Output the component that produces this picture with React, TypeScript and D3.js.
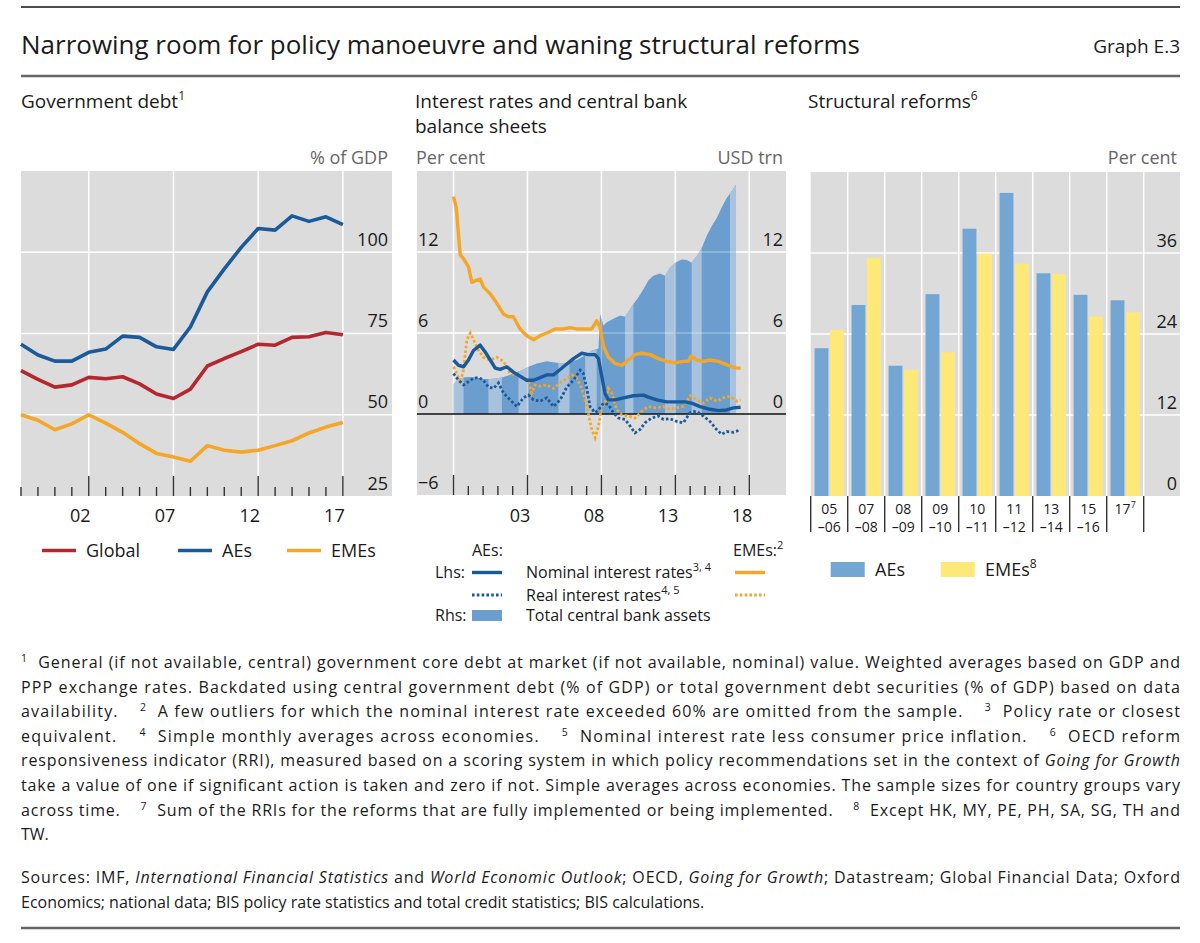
import React, { useEffect } from "react";
import * as d3 from "d3";

const FONT = "'Open Sans', 'Noto Sans', sans-serif";

// ---- Government debt (% of GDP), end-year values
const debtYears = [1998, 1999, 2000, 2001, 2002, 2003, 2004, 2005, 2006, 2007, 2008, 2009, 2010, 2011, 2012, 2013, 2014, 2015, 2016, 2017];
const debtGlobal = [63.6, 60.9, 58.5, 59.2, 61.5, 61.1, 61.7, 59.5, 56.4, 55.0, 57.9, 65.0, 67.3, 69.4, 71.7, 71.4, 73.8, 74.0, 75.3, 74.6];
const debtAEs = [71.7, 68.4, 66.5, 66.5, 69.2, 70.2, 74.2, 73.8, 70.9, 70.1, 77.0, 87.8, 94.9, 101.5, 107.3, 106.8, 111.2, 109.5, 110.9, 108.5];
const debtEMEs = [50.0, 48.3, 45.4, 47.2, 50.0, 47.4, 44.6, 41.1, 38.1, 37.0, 35.7, 40.5, 39.1, 38.5, 39.1, 40.5, 42.0, 44.4, 46.2, 47.6];
const debtTicks = [25, 50, 75, 100];
const debtMajorYears = [2002, 2007, 2012, 2017];

// ---- Interest rates (per cent) and central bank assets (USD trn), [date, value]
const emeNominal: [number, number][] = [
  [1999.0, 16.1], [1999.18, 15.3], [1999.45, 11.8], [1999.68, 11.5], [2000.01, 10.9], [2000.24, 9.75], [2000.53, 9.9],
  [2000.8, 10.0], [2001.03, 9.4], [2001.48, 8.9], [2001.93, 8.2], [2002.38, 7.4], [2002.72, 7.2], [2003.05, 7.2],
  [2003.5, 6.3], [2003.95, 5.8], [2004.41, 5.5], [2004.86, 5.8], [2005.31, 6.0], [2005.87, 6.3], [2006.43, 6.3],
  [2006.88, 6.4], [2007.33, 6.3], [2008.01, 6.3], [2008.35, 6.3], [2008.68, 6.9], [2008.91, 6.4], [2009.14, 5.0],
  [2009.47, 4.2], [2009.92, 3.75], [2010.37, 3.6], [2010.82, 4.0], [2011.27, 4.4], [2011.73, 4.5], [2012.29, 4.4],
  [2012.85, 4.1], [2013.41, 3.9], [2013.98, 3.8], [2014.54, 3.9], [2014.88, 3.9], [2015.06, 4.3], [2015.44, 4.0],
  [2015.89, 3.9], [2016.34, 4.0], [2016.91, 3.9], [2017.36, 3.7], [2017.81, 3.5], [2018.14, 3.4], [2018.41, 3.4],
];
const aeNominal: [number, number][] = [
  [1999.0, 4.0], [1999.34, 3.6], [1999.68, 3.5], [2000.01, 4.0], [2000.35, 4.7], [2000.8, 5.1], [2001.14, 4.6],
  [2001.48, 4.0], [2001.82, 3.4], [2002.15, 3.3], [2002.6, 3.5], [2003.05, 3.1], [2003.5, 2.8], [2003.95, 2.5],
  [2004.41, 2.5], [2004.86, 2.7], [2005.31, 2.9], [2005.76, 2.9], [2006.21, 3.3], [2006.66, 3.7], [2007.11, 4.1],
  [2007.67, 4.5], [2008.12, 4.4], [2008.57, 4.4], [2008.8, 4.1], [2009.02, 2.8], [2009.25, 1.5], [2009.47, 1.05],
  [2009.92, 1.05], [2010.49, 1.2], [2011.16, 1.35], [2011.84, 1.4], [2012.18, 1.25], [2012.74, 1.05], [2013.41, 0.9],
  [2014.09, 0.9], [2014.65, 0.9], [2015.1, 0.8], [2015.67, 0.55], [2016.34, 0.35], [2016.91, 0.25], [2017.47, 0.3],
  [2017.92, 0.45], [2018.41, 0.5],
];
const aeReal: [number, number][] = [
  [1999.0, 3.0], [1999.34, 2.5], [1999.68, 2.15], [2000.01, 2.4], [2000.35, 2.65], [2000.69, 2.7], [2001.03, 2.5],
  [2001.36, 2.0], [2001.7, 1.9], [2002.04, 2.3], [2002.38, 1.55], [2002.83, 1.05], [2003.28, 0.55], [2003.73, 1.2],
  [2004.07, 1.4], [2004.41, 1.05], [2004.86, 0.95], [2005.31, 1.2], [2005.76, 0.55], [2006.21, 1.05], [2006.66, 2.0],
  [2007.11, 2.5], [2007.56, 3.25], [2007.78, 3.0], [2008.01, 1.9], [2008.23, 0.55], [2008.57, 0.1], [2008.8, 0.3],
  [2009.14, 0.8], [2009.47, 0.7], [2009.81, 0.1], [2010.15, -0.3], [2010.6, -0.4], [2010.94, -0.9], [2011.27, -1.4],
  [2011.61, -1.15], [2011.95, -0.65], [2012.4, -0.3], [2012.85, -0.15], [2013.19, -0.4], [2013.64, -0.35],
  [2014.09, -0.55], [2014.54, -0.65], [2014.99, 0.1], [2015.44, 0.2], [2015.89, -0.15], [2016.34, -0.55],
  [2016.79, -1.15], [2017.13, -1.5], [2017.47, -1.3], [2017.92, -1.35], [2018.32, -1.2],
];
const emeReal: [number, number][] = [
  [1999.0, 3.5], [1999.23, 3.0], [1999.45, 2.3], [1999.68, 3.3], [1999.9, 5.5], [2000.13, 6.0], [2000.35, 5.5],
  [2000.69, 4.7], [2001.03, 4.2], [2001.48, 4.0], [2001.93, 4.2], [2002.38, 3.9], [2002.83, 3.0], [2003.17, 2.9],
  [2003.62, 2.8], [2004.07, 2.4], [2004.29, 1.55], [2004.52, 2.15], [2004.86, 2.05], [2005.31, 2.15], [2005.76, 1.9],
  [2006.21, 2.3], [2006.66, 2.65], [2007.0, 2.9], [2007.33, 2.65], [2007.67, 1.9], [2008.01, 0.55], [2008.35, -1.15],
  [2008.57, -1.75], [2008.8, -0.9], [2009.02, 0.55], [2009.25, 0.8], [2009.47, 1.9], [2009.7, 1.55], [2010.04, 0.3],
  [2010.37, -0.05], [2010.82, -0.15], [2011.27, -0.3], [2011.73, 0.2], [2012.18, 0.55], [2012.74, 0.45],
  [2013.19, 0.55], [2013.64, 0.35], [2014.09, 0.45], [2014.54, 0.55], [2014.99, 1.35], [2015.44, 1.05],
  [2015.89, 0.8], [2016.34, 1.2], [2016.79, 0.95], [2017.24, 1.2], [2017.69, 1.3], [2018.14, 0.95], [2018.41, 1.05],
];
const cbAssets: [number, number][] = [
  [1999.0, 2.2], [1999.34, 2.6], [1999.68, 2.7], [2000.01, 2.75], [2000.58, 2.7], [2001.03, 2.6], [2001.48, 2.6],
  [2001.93, 2.65], [2002.27, 2.7], [2002.83, 2.9], [2003.39, 3.15], [2003.73, 3.3], [2004.07, 3.5], [2004.63, 3.75],
  [2005.31, 3.9], [2005.98, 3.8], [2006.43, 3.75], [2006.88, 3.9], [2007.33, 4.0], [2007.9, 4.35], [2008.35, 4.7],
  [2008.8, 4.85], [2008.91, 7.4], [2009.14, 6.55], [2009.36, 6.8], [2009.81, 7.05], [2010.26, 7.3], [2010.6, 7.2],
  [2011.16, 8.15], [2011.5, 8.65], [2011.84, 9.25], [2012.18, 9.9], [2012.51, 10.25], [2012.96, 10.4],
  [2013.3, 10.25], [2013.64, 10.85], [2013.98, 11.2], [2014.43, 11.45], [2014.77, 11.4], [2015.1, 11.2],
  [2015.44, 11.7], [2015.78, 12.3], [2016.12, 13.2], [2016.45, 13.9], [2016.79, 14.5], [2017.13, 15.3],
  [2017.47, 16.0], [2017.81, 16.5], [2018.1, 17.0],
];
// lighter stripes visible in the asset bars
const assetLightBands: [number, number][] = [
  [1999.0, 1999.68], [2001.36, 2002.27], [2003.39, 2004.07], [2006.09, 2006.84], [2007.9, 2008.68],
  [2010.6, 2011.16], [2013.3, 2013.98], [2015.1, 2015.78], [2017.69, 2018.14],
];
const rateTicks = [-6, 0, 6, 12];
const rateYears = [1999, 2000, 2001, 2002, 2003, 2004, 2005, 2006, 2007, 2008, 2009, 2010, 2011, 2012, 2013, 2014, 2015, 2016, 2017, 2018, 2019];
const rateMajorYears = [1999, 2004, 2009, 2014, 2019];
const rateYearLabels = [2003, 2008, 2013, 2018];

// ---- Structural reforms (per cent)
const reformTop = ["05", "07", "08", "09", "10", "11", "13", "15", "17"];
const reformBottom = ["–06", "–08", "–09", "–10", "–11", "–12", "–14", "–16", ""];
const reformAEs = [21.9, 28.3, 19.3, 29.9, 39.6, 44.9, 33.0, 29.8, 29.0];
const reformEMEs = [24.6, 35.3, 18.7, 21.3, 35.9, 34.4, 32.9, 26.6, 27.2];
const reformTicks = [0, 12, 24, 36];

const C = {
  bg: "#dcdcdc",
  red: "#b3282e",
  blue: "#1a5a9b",
  orange: "#f4a628",
  barBlue: "#74a6d3",
  barYellow: "#fde878",
  assetDark: "#6b9ecf",
  assetLight: "#a8c2dd",
  text: "#1a1a1a",
  unit: "#666666",
};

type Seg = { t: string; sup?: boolean; it?: boolean };
function segs(list: Seg[], supSize = 11, shift = 7) {
  let up = false;
  return list.map((s, i) => {
    let dy: number | undefined;
    if (s.sup && !up) {
      dy = -shift;
      up = true;
    } else if (!s.sup && up) {
      dy = shift;
      up = false;
    }
    return (
      <tspan key={i} dy={dy} fontSize={s.sup ? supSize : undefined} fontStyle={s.it ? "italic" : undefined}>
        {s.t}
      </tspan>
    );
  });
}

function DebtPanel() {
  const L = 21, R = 392, T = 171, B = 496;
  const x = d3.scaleLinear().domain([1998, 2019.9]).range([L, R]);
  const y = d3.scaleLinear().domain([25, 125]).range([B, T]);
  const line = d3.line<number>().x((_, i) => x(debtYears[i])).y((d) => y(d));
  const series = [
    { v: debtGlobal, c: C.red },
    { v: debtAEs, c: C.blue },
    { v: debtEMEs, c: C.orange },
  ];
  return (
    <g>
      <rect x={L} y={T} width={R - L} height={B - T} fill={C.bg} />
      {debtTicks.slice(1).map((t) => (
        <line key={t} x1={L} x2={R} y1={y(t)} y2={y(t)} stroke="#fff" strokeWidth={1.5} />
      ))}
      {debtMajorYears.map((yr) => (
        <line key={yr} x1={x(yr)} x2={x(yr)} y1={T} y2={B} stroke="#fff" strokeWidth={1.5} />
      ))}
      {debtYears.map((yr) => {
        const major = debtMajorYears.includes(yr);
        return <line key={yr} x1={x(yr)} x2={x(yr)} y1={B} y2={B - (major ? 20 : 9)} stroke="#333" strokeWidth={1.4} />;
      })}
      {series.map((s, i) => (
        <path key={i} d={line(s.v) || ""} fill="none" stroke={s.c} strokeWidth={3.6} strokeLinejoin="round" />
      ))}
      {debtTicks.map((t) => (
        <text key={t} x={R - 4} y={y(t) - 6.5} textAnchor="end" fontSize={18} fill={C.text}>
          {t}
        </text>
      ))}
      <text x={R - 4} y={164} textAnchor="end" fontSize={18} fill={C.unit}>% of GDP</text>
      {debtMajorYears.map((yr) => (
        <text key={yr} x={x(yr - 0.5)} y={522} textAnchor="middle" fontSize={18} fill={C.text}>
          {String(yr).slice(2)}
        </text>
      ))}
      {/* legend */}
      {[
        { n: "Global", c: C.red, x0: 42 },
        { n: "AEs", c: C.blue, x0: 178 },
        { n: "EMEs", c: C.orange, x0: 287 },
      ].map((d) => (
        <g key={d.n}>
          <line x1={d.x0} x2={d.x0 + 34} y1={550.5} y2={550.5} stroke={d.c} strokeWidth={3.6} />
          <text x={d.x0 + 44} y={557} fontSize={18} fill={C.text}>{d.n}</text>
        </g>
      ))}
    </g>
  );
}

function RatesPanel() {
  const L = 417, R = 786, T = 171, B = 495;
  const x = d3.scaleLinear().domain([1996.53, 2021.48]).range([L, R]);
  const y = d3.scaleLinear().domain([-6, 18]).range([B, T]);
  const line = d3.line<[number, number]>().x((d) => x(d[0])).y((d) => y(d[1]));
  const area = d3.area<[number, number]>().x((d) => x(d[0])).y0(y(0)).y1((d) => y(d[1]));
  const assetPath = area(cbAssets) || "";
  const grid = (op: number) => (
    <g opacity={op}>
      {rateTicks.slice(2).map((t) => (
        <line key={t} x1={L} x2={R} y1={y(t)} y2={y(t)} stroke="#fff" strokeWidth={1.5} />
      ))}
      {rateMajorYears.map((yr) => (
        <line key={yr} x1={x(yr)} x2={x(yr)} y1={T} y2={B} stroke="#fff" strokeWidth={1.5} />
      ))}
    </g>
  );
  return (
    <g>
      <defs>
        <clipPath id="lightBands">
          {assetLightBands.map((b, i) => (
            <rect key={i} x={x(b[0])} y={T} width={x(b[1]) - x(b[0])} height={B - T} />
          ))}
        </clipPath>
      </defs>
      <rect x={L} y={T} width={R - L} height={B - T} fill={C.bg} />
      {grid(1)}
      <path d={assetPath} fill={C.assetDark} />
      <path d={assetPath} fill={C.assetLight} clipPath="url(#lightBands)" />
      {grid(0.3)}
      <line x1={L} x2={R} y1={y(0)} y2={y(0)} stroke="#111" strokeWidth={1.5} />
      {rateYears.map((yr) => {
        const major = rateMajorYears.includes(yr);
        return <line key={yr} x1={x(yr)} x2={x(yr)} y1={B} y2={B - (major ? 20 : 9)} stroke="#333" strokeWidth={1.4} />;
      })}
      <path d={line(emeReal) || ""} fill="none" stroke={C.orange} strokeWidth={2.8} strokeDasharray="2.6 2.2" />
      <path d={line(aeReal) || ""} fill="none" stroke={C.blue} strokeWidth={2.8} strokeDasharray="2.6 2.2" />
      <path d={line(emeNominal) || ""} fill="none" stroke={C.orange} strokeWidth={3.4} strokeLinejoin="round" />
      <path d={line(aeNominal) || ""} fill="none" stroke={C.blue} strokeWidth={3.4} strokeLinejoin="round" />
      {rateTicks.map((t) => (
        <g key={t}>
          <text x={L + 1} y={y(t) - 6.5} fontSize={18} fill={C.text}>{t < 0 ? "−" + Math.abs(t) : t}</text>
          {t >= 0 && (
            <text x={R - 3} y={y(t) - 6.5} textAnchor="end" fontSize={18} fill={C.text}>{t}</text>
          )}
        </g>
      ))}
      <text x={L - 1} y={164} fontSize={18} fill={C.unit}>Per cent</text>
      <text x={R - 3} y={164} textAnchor="end" fontSize={18} fill={C.unit}>USD trn</text>
      {rateYearLabels.map((yr) => (
        <text key={yr} x={x(yr + 0.5)} y={522} textAnchor="middle" fontSize={18} fill={C.text}>
          {String(yr).slice(2)}
        </text>
      ))}
      {/* legend */}
      <g fontSize={16} fill={C.text}>
        <text x={472} y={556}>AEs:</text>
        <text x={733} y={556}>{segs([{ t: "EMEs:" }, { t: "2", sup: true }], 11, 7)}</text>
        <text x={435} y={578}>Lhs:</text>
        <line x1={472} x2={502} y1={572.5} y2={572.5} stroke={C.blue} strokeWidth={3.4} />
        <text x={526} y={578}>{segs([{ t: "Nominal interest rates" }, { t: "3, 4", sup: true }], 11, 7)}</text>
        <line x1={735} x2={765} y1={572.5} y2={572.5} stroke={C.orange} strokeWidth={3.4} />
        <line x1={472} x2={502} y1={595} y2={595} stroke={C.blue} strokeWidth={2.8} strokeDasharray="2.6 2.2" />
        <text x={526} y={600.5}>{segs([{ t: "Real interest rates" }, { t: "4, 5", sup: true }], 11, 7)}</text>
        <line x1={735} x2={765} y1={595} y2={595} stroke={C.orange} strokeWidth={2.8} strokeDasharray="2.6 2.2" />
        <text x={435} y={621}>Rhs:</text>
        <rect x={472} y={610} width={30} height={11} fill={C.assetDark} />
        <text x={526} y={621}>Total central bank assets</text>
      </g>
    </g>
  );
}

function ReformPanel() {
  const L = 810.7, R = 1180, T = 172, B = 496;
  const step = 37;
  const x = d3.scaleBand<string>().domain(reformTop).range([L, L + step * reformTop.length]);
  const inner = d3.scaleBand<string>().domain(["AEs", "EMEs"]).range([0, step]).paddingInner(0.1).paddingOuter(0.25);
  const y = d3.scaleLinear().domain([0, 48]).range([B, T]);
  const bounds = [...reformTop.map((c) => x(c) as number), (x(reformTop[reformTop.length - 1]) as number) + x.bandwidth()];
  return (
    <g>
      <rect x={L} y={T} width={R - L} height={B - T} fill={C.bg} />
      {reformTicks.slice(1).map((t) => (
        <line key={t} x1={L} x2={R} y1={y(t)} y2={y(t)} stroke="#fff" strokeWidth={1.5} />
      ))}
      {bounds.slice(1).map((bx, i) => (
        <line key={i} x1={bx} x2={bx} y1={T} y2={B} stroke="#fff" strokeWidth={1.5} />
      ))}
      {reformTop.map((c, i) => (
        <g key={c}>
          <rect
            x={(x(c) as number) + (inner("AEs") as number)}
            y={y(reformAEs[i])}
            width={inner.bandwidth()}
            height={B - y(reformAEs[i])}
            fill={C.barBlue}
          />
          <rect
            x={(x(c) as number) + (inner("EMEs") as number)}
            y={y(reformEMEs[i])}
            width={inner.bandwidth()}
            height={B - y(reformEMEs[i])}
            fill={C.barYellow}
          />
        </g>
      ))}
      {reformTicks.map((t) => (
        <text key={t} x={R - 3} y={y(t) - 6.5} textAnchor="end" fontSize={18} fill={C.text}>{t}</text>
      ))}
      <text x={R - 3} y={164} textAnchor="end" fontSize={18} fill={C.unit}>Per cent</text>
      {bounds.map((bx, i) => (
        <line key={i} x1={bx} x2={bx} y1={B} y2={532} stroke="#333" strokeWidth={1.4} />
      ))}
      {reformTop.map((c, i) => {
        const cx = (x(c) as number) + x.bandwidth() / 2;
        return (
          <g key={c} fontSize={14} fill={C.text} textAnchor="middle">
            <text x={cx} y={514}>
              {i === reformTop.length - 1 ? segs([{ t: c }, { t: "7", sup: true }], 9, 6) : c}
            </text>
            <text x={cx} y={532}>{reformBottom[i]}</text>
          </g>
        );
      })}
      {/* legend */}
      <rect x={830.7} y={562} width={34} height={15} fill={C.barBlue} />
      <text x={875} y={576} fontSize={18} fill={C.text}>AEs</text>
      <rect x={940.7} y={562} width={34} height={15} fill={C.barYellow} />
      <text x={985} y={576} fontSize={18} fill={C.text}>{segs([{ t: "EMEs" }, { t: "8", sup: true }], 12, 8)}</text>
    </g>
  );
}

const footLines: { segs: Seg[]; justify: boolean }[] = [
  { segs: [{ t: "1", sup: true }, { t: "  General (if not available, central) government core debt at market (if not available, nominal) value. Weighted averages based on GDP and" }], justify: true },
  { segs: [{ t: "PPP exchange rates. Backdated using central government debt (% of GDP) or total government debt securities (% of GDP) based on data" }], justify: true },
  { segs: [{ t: "availability.    " }, { t: "2", sup: true }, { t: "  A few outliers for which the nominal interest rate exceeded 60% are omitted from the sample.    " }, { t: "3", sup: true }, { t: "  Policy rate or closest" }], justify: true },
  { segs: [{ t: "equivalent.    " }, { t: "4", sup: true }, { t: "  Simple monthly averages across economies.    " }, { t: "5", sup: true }, { t: "  Nominal interest rate less consumer price inflation.    " }, { t: "6", sup: true }, { t: "  OECD reform" }], justify: true },
  { segs: [{ t: "responsiveness indicator (RRI), measured based on a scoring system in which policy recommendations set in the context of " }, { t: "Going for Growth", it: true }], justify: true },
  { segs: [{ t: "take a value of one if significant action is taken and zero if not. Simple averages across economies. The sample sizes for country groups vary" }], justify: true },
  { segs: [{ t: "across time.    " }, { t: "7", sup: true }, { t: "  Sum of the RRIs for the reforms that are fully implemented or being implemented.    " }, { t: "8", sup: true }, { t: "  Except HK, MY, PE, PH, SA, SG, TH and" }], justify: true },
  { segs: [{ t: "TW." }], justify: false },
];
const sourceLines: { segs: Seg[]; justify: boolean }[] = [
  { segs: [{ t: "Sources: IMF, " }, { t: "International Financial Statistics", it: true }, { t: " and " }, { t: "World Economic Outlook", it: true }, { t: "; OECD, " }, { t: "Going for Growth", it: true }, { t: "; Datastream; Global Financial Data; Oxford" }], justify: true },
  { segs: [{ t: "Economics; national data; BIS policy rate statistics and total credit statistics; BIS calculations." }], justify: false },
];

export default function App() {
  useEffect(() => {
    document.body.style.margin = "0";
  }, []);
  const textW = 1180 - 21;
  const renderLines = (lines: { segs: Seg[]; justify: boolean }[], y0: number) =>
    lines.map((l, i) => (
      <text
        key={i}
        x={21}
        y={y0 + i * 24.6}
        xmlSpace="preserve"
        style={{ whiteSpace: "pre" }}
        textLength={l.justify ? textW : undefined}
        lengthAdjust={l.justify ? "spacing" : undefined}
      >
        {segs(l.segs, 10.5, 6)}
      </text>
    ));
  return (
    <svg
      width={1200}
      height={943}
      viewBox="0 0 1200 943"
      style={{ display: "block", background: "#fff", fontFamily: FONT }}
      fontFamily={FONT}
    >
      <rect width={1200} height={943} fill="#fff" />
      <line x1={21} x2={1180} y1={7} y2={7} stroke="#111" strokeWidth={1.5} />
      <text x={21} y={54} fontSize={25} fill={C.text} textLength={839} lengthAdjust="spacingAndGlyphs">
        Narrowing room for policy manoeuvre and waning structural reforms
      </text>
      <text x={1180} y={53} fontSize={19} fill={C.text} textAnchor="end">Graph E.3</text>
      <line x1={21} x2={1180} y1={76} y2={76} stroke="#666" strokeWidth={2.5} />

      <text x={21} y={108} fontSize={19} fill={C.text}>{segs([{ t: "Government debt" }, { t: "1", sup: true }], 12, 8)}</text>
      <text x={415} y={108} fontSize={19} fill={C.text}>Interest rates and central bank</text>
      <text x={415} y={133} fontSize={19} fill={C.text}>balance sheets</text>
      <text x={808} y={108} fontSize={19} fill={C.text}>{segs([{ t: "Structural reforms" }, { t: "6", sup: true }], 12, 8)}</text>

      <DebtPanel />
      <RatesPanel />
      <ReformPanel />

      <g fontSize={16} fill={C.text}>
        {renderLines(footLines, 668)}
        {renderLines(sourceLines, 883)}
      </g>
      <line x1={21} x2={1180} y1={928} y2={928} stroke="#666" strokeWidth={2.5} />
    </svg>
  );
}
